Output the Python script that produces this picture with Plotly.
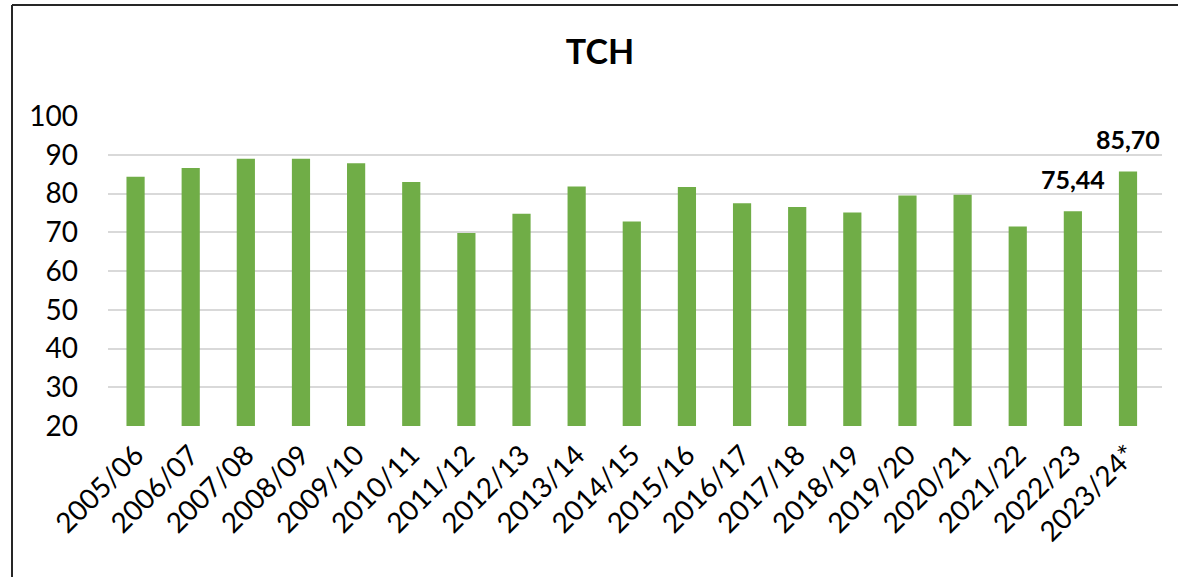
import plotly.graph_objects as go

categories = ["2005/06", "2006/07", "2007/08", "2008/09", "2009/10", "2010/11",
              "2011/12", "2012/13", "2013/14", "2014/15", "2015/16", "2016/17",
              "2017/18", "2018/19", "2019/20", "2020/21", "2021/22", "2022/23",
              "2023/24*"]
values = [84.3, 86.6, 89.0, 89.0, 87.8, 83.0, 69.8, 74.8, 81.8, 72.8, 81.7,
          77.5, 76.5, 75.1, 79.5, 79.7, 71.5, 75.44, 85.70]
labelled = ["2022/23", "2023/24*"]
y_ticks = [20, 30, 40, 50, 60, 70, 80, 90, 100]

W, H = 1178, 577
L, R, T, B = 108, 16, 116, 151
pw, ph = W - L - R, H - T - B

def px_to_paper_x(px):
    return (px - L) / pw

def px_to_paper_y(py):
    return (H - B - py) / ph

fig = go.Figure(go.Bar(
    x=categories, y=values,
    marker=dict(color="#70AD47", line=dict(width=0)),
    width=0.33, hoverinfo="x+y",
))

for c, v in zip(categories, values):
    if c in labelled:
        fig.add_annotation(x=c, y=v, text="<b>" + f"{v:.2f}".replace(".", ",") + "</b>",
                           showarrow=False, yanchor="bottom", yshift=15,
                           font=dict(family="Lato", size=25, color="#000000"))

fig.update_layout(
    width=W, height=H,
    margin=dict(l=L, r=R, t=T, b=B),
    paper_bgcolor="white", plot_bgcolor="white",
    font=dict(family="Lato", size=28, color="#000000"),
    title=dict(text="<b>TCH</b>", x=600 / W, xanchor="center", y=1 - 52 / H, yanchor="middle",
               font=dict(family="Lato", size=34, color="#000000")),
    showlegend=False,
)
fig.update_yaxes(range=[20, 100], tickvals=y_ticks, showgrid=True, gridcolor="#D9D9D9",
                 gridwidth=1.5, zeroline=False, showline=False, ticks="",
                 ticklabelstandoff=29, tickfont=dict(size=28))
fig.update_xaxes(tickangle=-45, showline=False, ticks="", ticklabelstandoff=6,
                 tickfont=dict(size=28))

border = dict(color="#262626", width=2)
fig.add_shape(type="line", xref="paper", yref="paper",
              x0=px_to_paper_x(12), x1=px_to_paper_x(W + 5),
              y0=px_to_paper_y(5), y1=px_to_paper_y(5), line=border)
fig.add_shape(type="line", xref="paper", yref="paper",
              x0=px_to_paper_x(12), x1=px_to_paper_x(12),
              y0=px_to_paper_y(5), y1=px_to_paper_y(H + 5), line=border)

fig.write_html("out.html", config={"displayModeBar": False})

with open("out.html", "r", encoding="utf-8") as f:
    html = f.read()
html = html.replace("<body>", '<body style="margin:0;overflow:hidden">', 1)
with open("out.html", "w", encoding="utf-8") as f:
    f.write(html)
